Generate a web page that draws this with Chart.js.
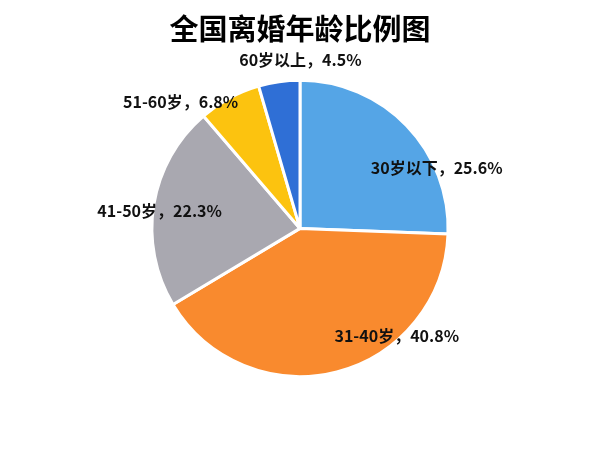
<!DOCTYPE html>
<html>
<head>
<meta charset="utf-8">
<script src="https://cdn.jsdelivr.net/npm/chart.js@4"></script>
<style>
  html, body { margin: 0; padding: 0; background: #fff; }
  #wrap { width: 600px; height: 450px; }
</style>
</head>
<body>
<div id="wrap"><canvas id="chart"></canvas></div>
<script>
var labels = ['30岁以下', '31-40岁', '41-50岁', '51-60岁', '60岁以上'];
var values = [25.6, 40.8, 22.3, 6.8, 4.5];
var colors = ['#55A5E6', '#F98A2E', '#A9A8B0', '#FCC30F', '#2F6FD6'];

// label nudges from the slice middle (Excel-style placement)
var nudge = [[62, 11], [71, 7], [-38, -1], [-70, -35], [15, -66]];

var sliceLabels = {
	id: 'sliceLabels',
	afterDatasetsDraw: function(chart) {
		var ctx = chart.ctx;
		var meta = chart.getDatasetMeta(0);
		ctx.save();
		ctx.font = 'bold 16px "Noto Sans CJK SC", "Noto Sans", sans-serif';
		ctx.fillStyle = '#111';
		ctx.textAlign = 'center';
		ctx.textBaseline = 'middle';
		meta.data.forEach(function(arc, i) {
			var mid = (arc.startAngle + arc.endAngle) / 2;
			var r = arc.outerRadius * 0.7;
			var x = arc.x + Math.cos(mid) * r + nudge[i][0];
			var y = arc.y + Math.sin(mid) * r + nudge[i][1];
			ctx.fillText(labels[i] + '，' + values[i] + '%', x, y);
		});
		ctx.restore();
	}
};

var ctx = document.getElementById('chart').getContext('2d');
var chart = new Chart(ctx, {
	type: 'pie',
	data: {
		labels: labels,
		datasets: [{
			data: values,
			backgroundColor: colors,
			borderColor: '#fff',
			borderWidth: 3
		}]
	},
	options: {
		responsive: true,
		maintainAspectRatio: false,
		animation: false,
		layout: { padding: { top: 0, bottom: 72, left: 0, right: 0 } },
		plugins: {
			legend: { display: false },
			tooltip: { enabled: false },
			title: {
				display: true,
				text: '全国离婚年龄比例图',
				color: '#000',
				font: { family: '"Noto Sans CJK SC", sans-serif', size: 29, weight: 'bold' },
				padding: { top: 12, bottom: 32 }
			}
		}
	},
	plugins: [sliceLabels]
});
</script>
</body>
</html>
